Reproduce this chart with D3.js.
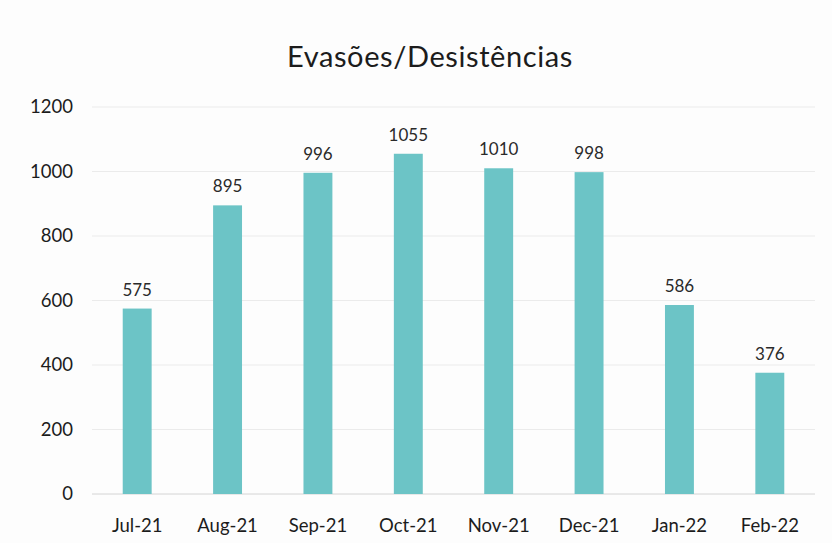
<!DOCTYPE html>
<html>
<head>
<meta charset="utf-8">
<script src="https://cdn.jsdelivr.net/npm/d3@7.9.0/dist/d3.min.js"></script>
<style>
  body { margin: 0; background: #fdfdfd; }
  svg { display: block; font-family: Lato, "Open Sans", sans-serif; }
</style>
</head>
<body>
<svg width="832" height="543"></svg>
<script>
// data
const months = ['Jul-21', 'Aug-21', 'Sep-21', 'Oct-21', 'Nov-21', 'Dec-21', 'Jan-22', 'Feb-22'];
const values = [575, 895, 996, 1055, 1010, 998, 586, 376];
const yTicks = [0, 200, 400, 600, 800, 1000, 1200];

const svg = d3.select('svg');
const margin = { top: 107, right: 17, bottom: 49, left: 92 };
const width = 832 - margin.left - margin.right;
const height = 543 - margin.top - margin.bottom;

const g = svg.append('g').attr('transform', `translate(${margin.left},${margin.top})`);

let x = d3.scaleBand().domain(months).range([0, width]).paddingInner(0.68).paddingOuter(0.34);
let y = d3.scaleLinear().domain([0, 1200]).range([height, 0]);

// title
svg.append('text')
  .attr('x', 430).attr('y', 67)
  .attr('text-anchor', 'middle')
  .attr('font-size', 29)
  .attr('letter-spacing', 0.6)
  .attr('fill', '#1c1c1c')
  .text('Evasões/Desistências');

// gridlines
g.selectAll('line.grid')
  .data(yTicks)
  .join('line')
  .attr('class', 'grid')
  .attr('x1', 0).attr('x2', width)
  .attr('y1', d => y(d)).attr('y2', d => y(d))
  .attr('stroke', d => d === 0 ? '#d4d4d4' : '#ebebeb')
  .attr('stroke-width', 1);

// y axis labels
g.selectAll('text.ytick')
  .data(yTicks)
  .join('text')
  .attr('class', 'ytick')
  .attr('x', -19).attr('y', d => y(d))
  .attr('dy', '0.35em')
  .attr('text-anchor', 'end')
  .attr('font-size', 18.5)
  .attr('fill', '#1c1c1c')
  .text(d => d);

// bars
g.selectAll('rect.bar')
  .data(values)
  .join('rect')
  .attr('class', 'bar')
  .attr('x', (d, i) => x(months[i]))
  .attr('width', x.bandwidth())
  .attr('y', d => y(d))
  .attr('height', d => height - y(d))
  .attr('fill', '#6cc4c6');

// value labels
g.selectAll('text.val')
  .data(values)
  .join('text')
  .attr('class', 'val')
  .attr('x', (d, i) => x(months[i]) + x.bandwidth() / 2)
  .attr('y', d => y(d) - 13)
  .attr('text-anchor', 'middle')
  .attr('font-size', 17)
  .attr('fill', '#2a2a2a')
  .text(d => d);

// x labels
g.selectAll('text.xtick')
  .data(months)
  .join('text')
  .attr('class', 'xtick')
  .attr('x', d => x(d) + x.bandwidth() / 2)
  .attr('y', height + 38)
  .attr('text-anchor', 'middle')
  .attr('font-size', 18.5)
  .attr('fill', '#1c1c1c')
  .text(d => d);
</script>
</body>
</html>
